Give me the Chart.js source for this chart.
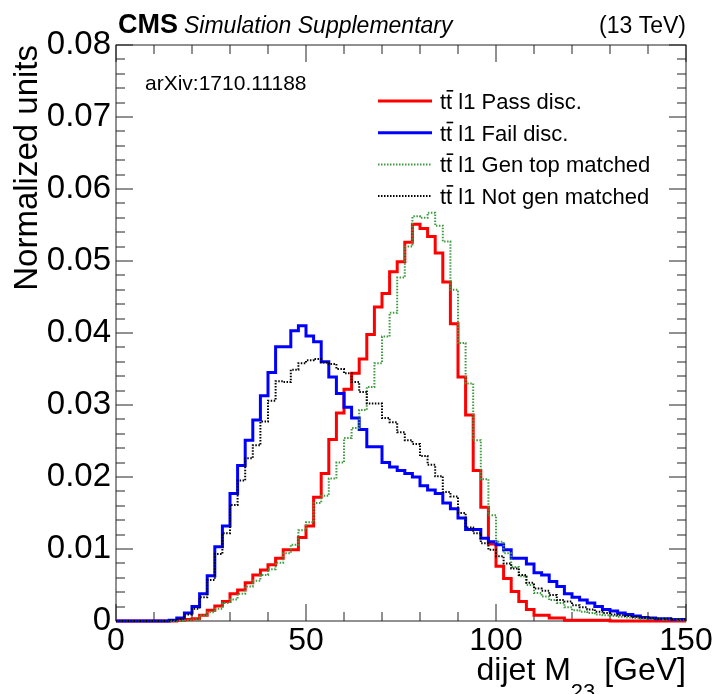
<!DOCTYPE html>
<html>
<head>
<meta charset="utf-8">
<script src="https://cdn.jsdelivr.net/npm/chart.js@4.4.0/dist/chart.umd.min.js"></script>
<style>
  html, body { margin: 0; padding: 0; background: #fff; }
  canvas { display: block; }
</style>
</head>
<body>
<canvas id="chart" width="717" height="694"></canvas>
<script>
// dijet M23 histograms, 2 GeV bins from 0 to 150
const binWidth = 2;
const massBins = Array.from({ length: 75 }, (_, i) => i * binWidth); // lower bin edges
const xTicks = [0, 50, 100, 150];
const yTicks = [0, 0.01, 0.02, 0.03, 0.04, 0.05, 0.06, 0.07, 0.08];

const passDisc = [
  0, 0, 0, 0, 0, 0, 0, 0,
  0.0001, 0.0002, 0.0003, 0.0008, 0.0015, 0.0021, 0.0027, 0.0038,
  0.0043, 0.0053, 0.0064, 0.0071, 0.0078, 0.0087, 0.0099, 0.0099,
  0.0116, 0.0132, 0.0172, 0.0205, 0.0252, 0.0289, 0.0322, 0.0344,
  0.0364, 0.0398, 0.0436, 0.0455, 0.0485, 0.0499, 0.0526, 0.0551,
  0.0545, 0.0534, 0.0511, 0.0471, 0.0413, 0.0339, 0.0286, 0.0209,
  0.0158, 0.0107, 0.0076, 0.0059, 0.0041, 0.0027, 0.0016, 0.0008,
  0.0008, 0.0004, 0.0004, 0.0001, 0.0001, 0.0001, 0.0001, 0.0001,
  0.0001, 0, 0, 0, 0, 0, 0, 0,
  0, 0, 0
];
const failDisc = [
  0, 0, 0, 0, 0, 0, 0, 0.0001,
  0.0004, 0.0011, 0.0020, 0.0038, 0.0063, 0.0103, 0.0132, 0.0177,
  0.0216, 0.0251, 0.0279, 0.0313, 0.0345, 0.0381, 0.0381, 0.0403,
  0.0410, 0.0396, 0.0388, 0.0360, 0.0339, 0.0316, 0.0297, 0.0282,
  0.0266, 0.0242, 0.0242, 0.0220, 0.0214, 0.0209, 0.0205, 0.0200,
  0.0188, 0.0182, 0.0177, 0.0164, 0.0156, 0.0143, 0.0127, 0.0127,
  0.0115, 0.0110, 0.0106, 0.0099, 0.0087, 0.0087, 0.0079, 0.0067,
  0.0064, 0.0055, 0.0048, 0.0038, 0.0033, 0.0029, 0.0025, 0.0020,
  0.0016, 0.0014, 0.0011, 0.0009, 0.0007, 0.0005, 0.0004, 0.0003,
  0.0003, 0.0002, 0.0002
];
const genTopMatched = [
  0, 0, 0, 0, 0, 0, 0, 0,
  0, 0.0001, 0.0002, 0.0008, 0.0012, 0.0017, 0.0025, 0.0030,
  0.0038, 0.0048, 0.0056, 0.0064, 0.0072, 0.0081, 0.0094, 0.0106,
  0.0126, 0.0137, 0.0164, 0.0174, 0.0198, 0.0220, 0.0254, 0.0268,
  0.0293, 0.0325, 0.0358, 0.0395, 0.0428, 0.0477, 0.0520, 0.0562,
  0.0560, 0.0567, 0.0549, 0.0527, 0.0460, 0.0386, 0.0330, 0.0251,
  0.0197, 0.0147, 0.0110, 0.0094, 0.0075, 0.0062, 0.0050, 0.0039,
  0.0034, 0.0029, 0.0025, 0.0019, 0.0015, 0.0013, 0.0011, 0.0009,
  0.0008, 0.0007, 0.0006, 0.0005, 0.0004, 0.0003, 0.0003, 0.0003,
  0.0002, 0.0002, 0.0001
];
const notGenMatched = [
  0, 0, 0, 0, 0, 0, 0, 0.0001,
  0.0003, 0.0009, 0.0017, 0.0033, 0.0057, 0.0093, 0.0122, 0.0161,
  0.0195, 0.0226, 0.0244, 0.0277, 0.0306, 0.0333, 0.0332, 0.0349,
  0.0358, 0.0362, 0.0364, 0.0359, 0.0357, 0.0350, 0.0344, 0.0332,
  0.0318, 0.0302, 0.0302, 0.0282, 0.0276, 0.0262, 0.0251, 0.0246,
  0.0229, 0.0217, 0.0201, 0.0179, 0.0173, 0.0150, 0.0130, 0.0122,
  0.0108, 0.0099, 0.0090, 0.0080, 0.0073, 0.0064, 0.0053, 0.0045,
  0.0042, 0.0036, 0.0029, 0.0027, 0.0022, 0.0019, 0.0016, 0.0013,
  0.0011, 0.0009, 0.0008, 0.0007, 0.0006, 0.0005, 0.0004, 0.0003,
  0.0003, 0.0002, 0.0002
];

const TT = "t" + "t\u0304"; // t tbar
const FONT = "'Liberation Sans', Arial, Helvetica, sans-serif";

// step histogram: one point per lower edge, plus the last upper edge
function histPoints(values) {
  const pts = values.map((v, i) => ({ x: massBins[i], y: v }));
  pts.push({ x: massBins[massBins.length - 1] + binWidth, y: values[values.length - 1] });
  return pts;
}

// draws "t tbar" by hand (bar over second t), then the rest of the label
function drawTTLabel(ctx, label, x, y) {
  const rest = label.startsWith(TT) ? label.slice(TT.length) : label;
  if (rest === label) { ctx.fillText(label, x, y); return; }
  const wt = ctx.measureText('t').width;
  ctx.fillText('tt', x, y);
  ctx.fillRect(x + wt + 0.5, y - 19, wt + 0.5, 1.6);
  ctx.fillText(rest, x + 2 * wt, y);
}

// ROOT style frame with inner ticks on all four sides, header, legend, x title
const rootDecor = {
  id: 'rootDecor',
  beforeDatasetsDraw(chart) {
    const { ctx, chartArea: a, scales: { x, y } } = chart;
    ctx.save();
    ctx.strokeStyle = '#222';
    ctx.lineWidth = 1;
    ctx.strokeRect(a.left, a.top, a.right - a.left, a.bottom - a.top);
    ctx.beginPath();
    for (let v = 0; v <= 150; v += 10) {
      const px = Math.round(x.getPixelForValue(v));
      const len = v % 50 === 0 ? 17 : 9;
      ctx.moveTo(px, a.bottom); ctx.lineTo(px, a.bottom - len);
      ctx.moveTo(px, a.top); ctx.lineTo(px, a.top + len);
    }
    for (let i = 0; i <= 40; i++) {
      const py = Math.round(y.getPixelForValue(i * 0.002));
      const len = i % 5 === 0 ? 17 : 9;
      ctx.moveTo(a.left, py); ctx.lineTo(a.left + len, py);
      ctx.moveTo(a.right, py); ctx.lineTo(a.right - len, py);
    }
    ctx.stroke();
    ctx.restore();
  },
  afterDraw(chart) {
    const { ctx, chartArea: a } = chart;
    ctx.save();
    ctx.fillStyle = '#000';
    ctx.textBaseline = 'alphabetic';

    // header
    ctx.font = 'bold 27px ' + FONT;
    ctx.textAlign = 'left';
    ctx.fillText('CMS', a.left + 2, 33);
    ctx.font = 'italic 23px ' + FONT;
    ctx.fillText('Simulation Supplementary', a.left + 68, 33);
    ctx.font = '23px ' + FONT;
    ctx.textAlign = 'right';
    ctx.fillText('(13 TeV)', a.right, 33);

    ctx.textAlign = 'left';
    ctx.font = '21px ' + FONT;
    ctx.fillText('arXiv:1710.11188', 145, 90);

    // legend
    chart.data.datasets.forEach((ds, i) => {
      const ly = 101 + i * 31.7;
      ctx.save();
      ctx.strokeStyle = ds.borderColor;
      ctx.lineWidth = ds.borderWidth;
      ctx.setLineDash(ds.borderDash || []);
      ctx.beginPath();
      ctx.moveTo(378, ly);
      ctx.lineTo(432, ly);
      ctx.stroke();
      ctx.restore();
      ctx.font = '22px ' + FONT;
      drawTTLabel(ctx, ds.label, 440, ly + 8);
    });

    // x title with subscript
    const main1 = 'dijet M', sub = '23', main2 = ' [GeV]';
    ctx.font = '32px ' + FONT;
    const w1 = ctx.measureText(main1).width;
    const w2 = ctx.measureText(main2).width;
    ctx.font = '22px ' + FONT;
    const ws = ctx.measureText(sub).width;
    let tx = a.right - (w1 + ws + w2);
    ctx.font = '32px ' + FONT;
    ctx.fillText(main1, tx, 680);
    tx += w1;
    ctx.font = '22px ' + FONT;
    ctx.fillText(sub, tx, 699);
    tx += ws;
    ctx.font = '32px ' + FONT;
    ctx.fillText(main2, tx, 680);
    ctx.restore();
  }
};

Chart.defaults.font.family = FONT;
Chart.defaults.color = '#000';

new Chart(document.getElementById('chart').getContext('2d'), {
  type: 'line',
  data: {
    datasets: [
      {
        label: TT + ' l1 Pass disc.',
        data: histPoints(passDisc),
        borderColor: '#ff0000',
        borderWidth: 3,
        order: 4
      },
      {
        label: TT + ' l1 Fail disc.',
        data: histPoints(failDisc),
        borderColor: '#0000ff',
        borderWidth: 3,
        order: 3
      },
      {
        label: TT + ' l1 Gen top matched',
        data: histPoints(genTopMatched),
        borderColor: '#3f9b3f',
        borderWidth: 2,
        borderDash: [1.5, 1.5],
        order: 2
      },
      {
        label: TT + ' l1 Not gen matched',
        data: histPoints(notGenMatched),
        borderColor: '#000000',
        borderWidth: 2,
        borderDash: [1.5, 1.5],
        order: 1
      }
    ]
  },
  options: {
    responsive: false,
    animation: false,
    devicePixelRatio: 1,
    clip: false,
    elements: {
      line: { stepped: true, tension: 0, fill: false },
      point: { radius: 0, hoverRadius: 0 }
    },
    layout: { padding: { left: 0, right: 31, top: 45, bottom: 0 } },
    plugins: {
      legend: { display: false },
      tooltip: { enabled: false }
    },
    scales: {
      x: {
        type: 'linear',
        min: 0,
        max: 150,
        grid: { display: false, drawTicks: false },
        border: { display: false },
        afterBuildTicks: (scale) => { scale.ticks = xTicks.map(v => ({ value: v })); },
        afterFit: (scale) => { scale.height = 73; },
        ticks: {
          autoSkip: false,
          maxRotation: 0,
          padding: 1,
          font: { size: 32 },
          callback: (v) => String(v)
        }
      },
      y: {
        type: 'linear',
        min: 0,
        max: 0.08,
        grid: { display: false, drawTicks: false },
        border: { display: false },
        afterBuildTicks: (scale) => { scale.ticks = yTicks.map(v => ({ value: v })); },
        afterFit: (scale) => { scale.width = 116; },
        ticks: {
          autoSkip: false,
          padding: 5,
          font: { size: 33 },
          callback: (v) => (v === 0 ? '0' : v.toFixed(2))
        },
        title: {
          display: true,
          text: 'Normalized units',
          align: 'end',
          font: { size: 33 },
          padding: { top: 8, bottom: 0 }
        }
      }
    }
  },
  plugins: [rootDecor]
});
</script>
</body>
</html>
